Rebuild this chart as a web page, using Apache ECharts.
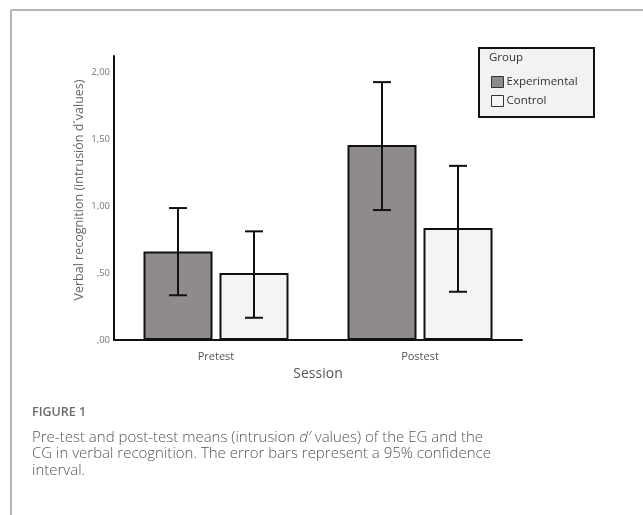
<!DOCTYPE html>
<html>
<head>
<meta charset="utf-8">
<script src="https://cdn.jsdelivr.net/npm/echarts@6/dist/echarts.min.js"></script>
<style>
html,body{margin:0;padding:0;background:#fff;}
#chart{width:643px;height:515px;}
</style>
</head>
<body>
<div id="chart"></div>
<script>
const categories = ['Pretest', 'Postest'];
const seriesNames = ['Experimental', 'Control'];
const expMeans = [0.66, 1.455];
const ctlMeans = [0.50, 0.836];
const expLow = [0.334, 0.97];
const expHigh = [0.985, 1.925];
const ctlLow = [0.166, 0.36];
const ctlHigh = [0.811, 1.30];
const yTicks = [0, 0.5, 1, 1.5, 2];

const chart = echarts.init(document.getElementById('chart'), null, {renderer: 'canvas'});
const BAR_W = 69, GAP = 7;

function errSeries(name, lows, highs, dir) {
  return {
    type: 'custom',
    name: name + ' CI',
    z: 10,
    silent: true,
    data: categories.map((c, i) => [i, lows[i], highs[i]]),
    renderItem: function (params, api) {
      const x = api.value(0);
      const lo = api.coord([x, api.value(1)]);
      const hi = api.coord([x, api.value(2)]);
      const cx = lo[0] + dir * (BAR_W + GAP) / 2;
      const cap = 9;
      const st = {stroke: '#111', lineWidth: 2};
      return {
        type: 'group',
        children: [
          {type: 'line', shape: {x1: cx, y1: hi[1], x2: cx, y2: lo[1]}, style: st},
          {type: 'line', shape: {x1: cx - cap, y1: hi[1], x2: cx + cap, y2: hi[1]}, style: st},
          {type: 'line', shape: {x1: cx - cap, y1: lo[1], x2: cx + cap, y2: lo[1]}, style: st}
        ]
      };
    }
  };
}

const option = {
  animation: false,
  backgroundColor: '#ffffff',
  grid: {left: 114, right: 121, top: 56, bottom: 175, containLabel: false},
  legend: {
    data: seriesNames,
    orient: 'vertical',
    left: 486, top: 71,
    icon: 'rect',
    itemWidth: 12, itemHeight: 11,
    itemGap: 7,
    textStyle: {fontFamily: 'Open Sans', fontSize: 11.5, color: '#333', padding: [0, 0, 0, -2]},
    itemStyle: {borderColor: '#333', borderWidth: 1}
  },
  graphic: [
    {type: 'line', z: 100, shape: {x1: 11, y1: 10, x2: 643, y2: 10}, style: {stroke: '#b5b5b5', lineWidth: 2}},
    {type: 'line', z: 100, shape: {x1: 11, y1: 10, x2: 11, y2: 515}, style: {stroke: '#b5b5b5', lineWidth: 2}},
    {type: 'rect', z: -1, shape: {x: 479, y: 48, width: 115, height: 69}, style: {fill: '#f2f2f2', stroke: '#111', lineWidth: 2}},
    {type: 'text', z: 100, left: 489, top: 52, style: {text: 'Group', fontFamily: 'Open Sans', fontSize: 11.5, fill: '#333'}},
    {type: 'text', z: 100, left: 32, top: 406, style: {text: 'FIGURE 1', fontFamily: 'Open Sans', fontSize: 12.5, fontWeight: 600, fill: '#6b6b6b'}},
    {type: 'text', z: 100, left: 32, top: 429, style: {
      text: 'Pre-test and post-test means (intrusion {i|d′} values) of the EG and the\nCG in verbal recognition. The error bars represent a 95% confidence\ninterval.',
      fontFamily: 'Open Sans', fontSize: 15, fontWeight: 300, fill: '#555', lineHeight: 16.7,
      rich: {i: {fontStyle: 'italic', fontFamily: 'Open Sans', fontSize: 15, fontWeight: 300, fill: '#555'}}
    }}
  ],
  xAxis: {
    type: 'category',
    data: categories,
    name: 'Session',
    nameLocation: 'middle',
    nameGap: 27,
    nameMoveOverlap: false,
    nameTextStyle: {fontFamily: 'Open Sans', fontSize: 14, color: '#555'},
    axisLine: {lineStyle: {color: '#111', width: 2}},
    axisTick: {show: false},
    axisLabel: {fontFamily: 'Open Sans', fontSize: 11, color: '#555', margin: 11}
  },
  yAxis: {
    type: 'value',
    min: 0, max: 2.12, interval: 0.5,
    name: 'Verbal recognition (intrusión d´values)',
    nameLocation: 'middle',
    nameGap: 28,
    nameMoveOverlap: false,
    nameTextStyle: {fontFamily: 'Open Sans', fontSize: 12.5, color: '#666', padding: [0, 0, 0, 16]},
    axisLine: {show: true, lineStyle: {color: '#111', width: 2}},
    axisTick: {show: false},
    splitLine: {show: false},
    axisLabel: {
      fontFamily: 'Open Sans', fontSize: 9.5, color: '#777', margin: 4,
      formatter: function (v) {
        if (!yTicks.some(t => Math.abs(t - v) < 1e-9)) return '';
        return v.toFixed(2).replace('.', ',').replace(/^0/, '');
      }
    }
  },
  series: [
    {
      name: seriesNames[0], type: 'bar', data: expMeans,
      barWidth: BAR_W, barGap: (GAP / BAR_W * 100) + '%',
      itemStyle: {color: '#908b8b', borderColor: '#111', borderWidth: 2}
    },
    {
      name: seriesNames[1], type: 'bar', data: ctlMeans,
      barWidth: BAR_W,
      itemStyle: {color: '#f4f4f4', borderColor: '#111', borderWidth: 2}
    },
    errSeries(seriesNames[0], expLow, expHigh, -1),
    errSeries(seriesNames[1], ctlLow, ctlHigh, 1)
  ]
};
chart.setOption(option);
</script>
</body>
</html>
